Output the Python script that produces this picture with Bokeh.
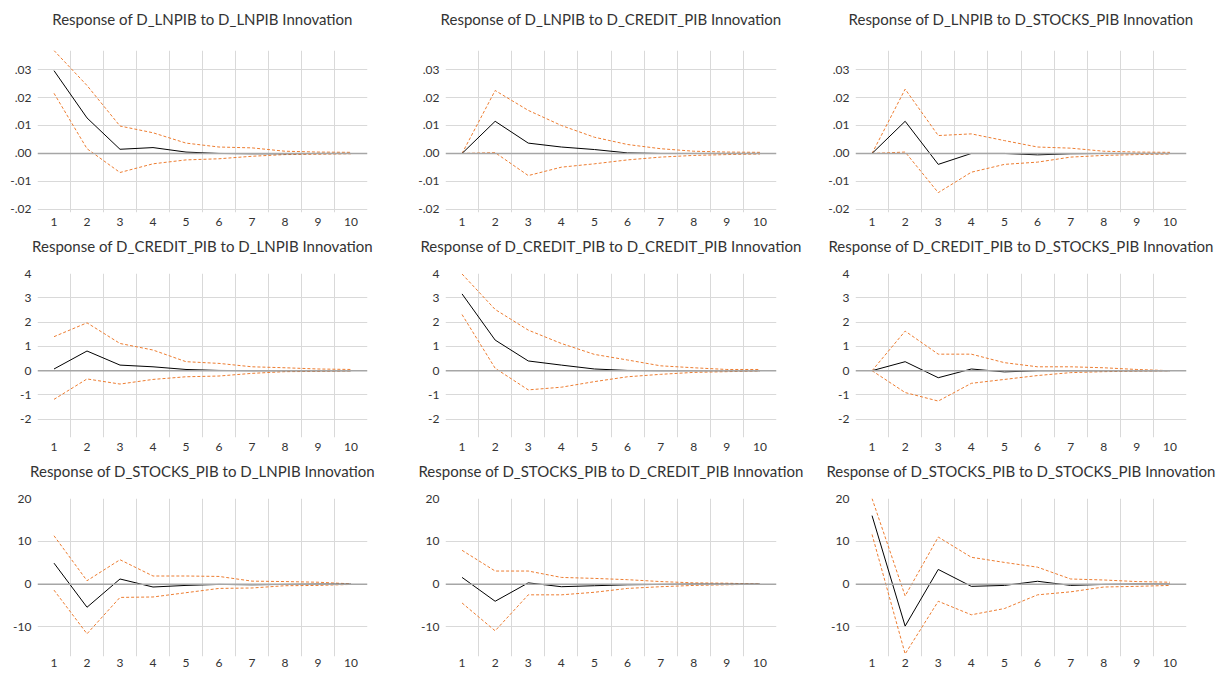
from bokeh.plotting import figure
from bokeh.layouts import column, row
from bokeh.models import FixedTicker, Span, Range1d, LinearAxis
from bokeh.embed import file_html
from bokeh.resources import INLINE

# ---------------- data ----------------
periods = [1, 2, 3, 4, 5, 6, 7, 8, 9, 10]
period_labels = ["1", "2", "3", "4", "5", "6", "7", "8", "9", "10"]
variables = ["D_LNPIB", "D_CREDIT_PIB", "D_STOCKS_PIB"]

# Response of D_LNPIB
lnpib_lnpib = [0.0296, 0.0127, 0.0015, 0.0021, 0.0005, 0.0, -0.0001, -0.0001, 0.0, 0.0]
lnpib_lnpib_up = [0.0368, 0.0243, 0.0098, 0.0074, 0.0037, 0.0023, 0.0020, 0.0008, 0.0005, 0.0004]
lnpib_lnpib_lo = [0.0215, 0.0017, -0.0068, -0.0037, -0.0023, -0.0019, -0.0010, -0.0004, -0.0003, -0.0001]

lnpib_credit = [0.0, 0.0115, 0.0037, 0.0023, 0.0014, 0.0002, 0.0, 0.0, 0.0, 0.0]
lnpib_credit_up = [0.0, 0.0225, 0.0154, 0.0100, 0.0058, 0.0032, 0.0017, 0.0008, 0.0005, 0.0004]
lnpib_credit_lo = [0.0, 0.0003, -0.0079, -0.0049, -0.0037, -0.0023, -0.0013, -0.0007, -0.0004, -0.0002]

lnpib_stocks = [0.0, 0.0115, -0.0039, 0.0, 0.0, -0.0005, -0.0001, 0.0, 0.0, 0.0]
lnpib_stocks_up = [0.0, 0.0230, 0.0064, 0.0070, 0.0046, 0.0023, 0.0019, 0.0008, 0.0005, 0.0004]
lnpib_stocks_lo = [0.0, 0.0005, -0.0140, -0.0067, -0.0039, -0.0031, -0.0013, -0.0007, -0.0004, -0.0002]

# Response of D_CREDIT_PIB
credit_lnpib = [0.07, 0.81, 0.23, 0.16, 0.05, 0.01, 0.0, 0.0, 0.0, 0.0]
credit_lnpib_up = [1.40, 1.97, 1.12, 0.85, 0.37, 0.30, 0.16, 0.12, 0.07, 0.05]
credit_lnpib_lo = [-1.18, -0.34, -0.55, -0.36, -0.25, -0.22, -0.11, -0.04, -0.03, -0.01]

credit_credit = [3.16, 1.26, 0.40, 0.23, 0.07, 0.01, 0.0, 0.0, 0.0, 0.0]
credit_credit_up = [3.98, 2.52, 1.67, 1.12, 0.67, 0.44, 0.20, 0.12, 0.05, 0.05]
credit_credit_lo = [2.31, 0.10, -0.79, -0.68, -0.45, -0.25, -0.15, -0.07, -0.04, -0.01]

credit_stocks = [0.0, 0.37, -0.29, 0.07, -0.05, 0.0, 0.0, 0.0, 0.0, 0.0]
credit_stocks_up = [0.0, 1.63, 0.68, 0.68, 0.33, 0.16, 0.16, 0.12, 0.05, 0.0]
credit_stocks_lo = [0.0, -0.90, -1.25, -0.52, -0.36, -0.20, -0.08, -0.04, -0.02, 0.0]

# Response of D_STOCKS_PIB
stocks_lnpib = [4.9, -5.4, 1.2, -0.67, -0.3, -0.07, -0.15, -0.07, 0.0, 0.0]
stocks_lnpib_up = [11.3, 0.8, 5.7, 1.9, 1.9, 1.8, 0.7, 0.6, 0.45, 0.07]
stocks_lnpib_lo = [-1.4, -11.6, -3.1, -3.0, -2.0, -1.0, -0.9, -0.37, -0.3, -0.07]

stocks_credit = [1.57, -4.0, 0.3, -0.6, -0.37, -0.15, -0.07, 0.0, 0.0, 0.0]
stocks_credit_up = [7.9, 3.06, 3.06, 1.57, 1.34, 1.04, 0.6, 0.3, 0.22, 0.0]
stocks_credit_lo = [-4.4, -10.9, -2.5, -2.5, -1.9, -1.0, -0.6, -0.3, -0.15, 0.0]

stocks_stocks = [16.0, -9.8, 3.43, -0.52, -0.3, 0.67, -0.3, -0.07, 0.0, 0.0]
stocks_stocks_up = [20.0, -2.76, 11.0, 6.27, 5.07, 3.96, 1.2, 0.97, 0.6, 0.45]
stocks_stocks_lo = [11.6, -16.3, -4.0, -7.16, -5.7, -2.5, -1.8, -0.67, -0.52, -0.3]

# y-axis ticks per responding variable
row_ticks = [
    [-0.02, -0.01, 0.0, 0.01, 0.02, 0.03],
    [-2, -1, 0, 1, 2, 3, 4],
    [-10, 0, 10, 20],
]
row_tick_labels = [
    ["-.02", "-.01", ".00", ".01", ".02", ".03"],
    ["-2", "-1", "0", "1", "2", "3", "4"],
    ["-10", "0", "10", "20"],
]
row_grid = [
    [-0.02, -0.01, 0.01, 0.02, 0.03],
    [-2, -1, 1, 2, 3],
    [-10, 10],
]
row_range = [(-0.0211, 0.0368), (-2.75, 4.0), (-16.9, 20.0)]

panels = [
    [(lnpib_lnpib, lnpib_lnpib_up, lnpib_lnpib_lo),
     (lnpib_credit, lnpib_credit_up, lnpib_credit_lo),
     (lnpib_stocks, lnpib_stocks_up, lnpib_stocks_lo)],
    [(credit_lnpib, credit_lnpib_up, credit_lnpib_lo),
     (credit_credit, credit_credit_up, credit_credit_lo),
     (credit_stocks, credit_stocks_up, credit_stocks_lo)],
    [(stocks_lnpib, stocks_lnpib_up, stocks_lnpib_lo),
     (stocks_credit, stocks_credit_up, stocks_credit_lo),
     (stocks_stocks, stocks_stocks_up, stocks_stocks_lo)],
]

# ---------------- layout / style ----------------
frame_w = [330, 331, 331]
col_left = [37, 37, 38]
col_right = [41, 41, 34]
frame_h = [162, 164, 158]
row_top = [50, 41, 41]
row_bottom = [20, 20, 16]
x_standoff = [5, 5, 2]
title_gap = [23, 19, 19]

FONT = "Lato"
TEXT = "#333333"
ORANGE = "#ED7D31"
GRID = "#D9D9D9"

rows = []
for r in range(3):
    row_figs = []
    for c in range(3):
        resp, up, lo = panels[r][c]
        p = figure(
            width=col_left[c] + frame_w[c] + col_right[c],
            height=row_top[r] + frame_h[r] + row_bottom[r],
            frame_width=frame_w[c], frame_height=frame_h[r],
            x_range=Range1d(0.5, 10.5), y_range=Range1d(*row_range[r]),
            output_backend="svg", toolbar_location=None,
            min_border_left=col_left[c], min_border_right=col_right[c],
            min_border_top=row_top[r], min_border_bottom=row_bottom[r],
            outline_line_color=None,
        )
        p.title = None

        # axes
        p.xaxis.ticker = FixedTicker(ticks=periods)
        p.xaxis.major_label_overrides = {k: v for k, v in zip(periods, period_labels)}
        p.yaxis.ticker = FixedTicker(ticks=row_ticks[r])
        p.yaxis.major_label_overrides = {k: v for k, v in zip(row_ticks[r], row_tick_labels[r])}
        for ax in (p.xaxis[0], p.yaxis[0]):
            ax.axis_line_color = None
            ax.major_tick_line_color = None
            ax.minor_tick_line_color = None
            ax.major_tick_out = 0
            ax.major_tick_in = 0
            ax.major_label_text_font = FONT
            ax.major_label_text_font_size = "12px"
            ax.major_label_text_color = TEXT
        p.xaxis.major_label_standoff = x_standoff[r]
        p.yaxis.major_label_standoff = 6

        # grids
        p.xgrid.ticker = FixedTicker(ticks=[1.5, 2.5, 3.5, 4.5, 5.5, 6.5, 7.5, 8.5, 9.5])
        p.ygrid.ticker = FixedTicker(ticks=row_grid[r])
        p.xgrid.grid_line_color = GRID
        p.ygrid.grid_line_color = GRID
        p.xgrid.grid_line_width = 1
        p.ygrid.grid_line_width = 1
        p.add_layout(Span(location=0, dimension="width", line_color="#A6A6A6", line_width=1.5))

        # lines
        p.line(periods, up, line_color=ORANGE, line_width=1, line_dash="3 2")
        p.line(periods, lo, line_color=ORANGE, line_width=1, line_dash="3 2")
        p.line(periods, resp, line_color="black", line_width=1)

        # panel heading: label of a tick-less axis above the frame
        head = LinearAxis(ticker=FixedTicker(ticks=[]), axis_line_color=None,
                          major_tick_line_color=None, minor_tick_line_color=None,
                          major_tick_out=0, major_tick_in=0,
                          minor_tick_out=0, minor_tick_in=0,
                          major_label_standoff=0,
                          axis_label=f"Response of {variables[r]} to {variables[c]} Innovation",
                          axis_label_standoff=title_gap[r],
                          axis_label_text_font=FONT,
                          axis_label_text_font_size="15px",
                          axis_label_text_font_style="normal",
                          axis_label_text_color=TEXT)
        p.add_layout(head, "above")
        row_figs.append(p)
    rows.append(row(*row_figs))

layout = column(*rows)
open("out.html", "w").write(file_html(layout, INLINE))
